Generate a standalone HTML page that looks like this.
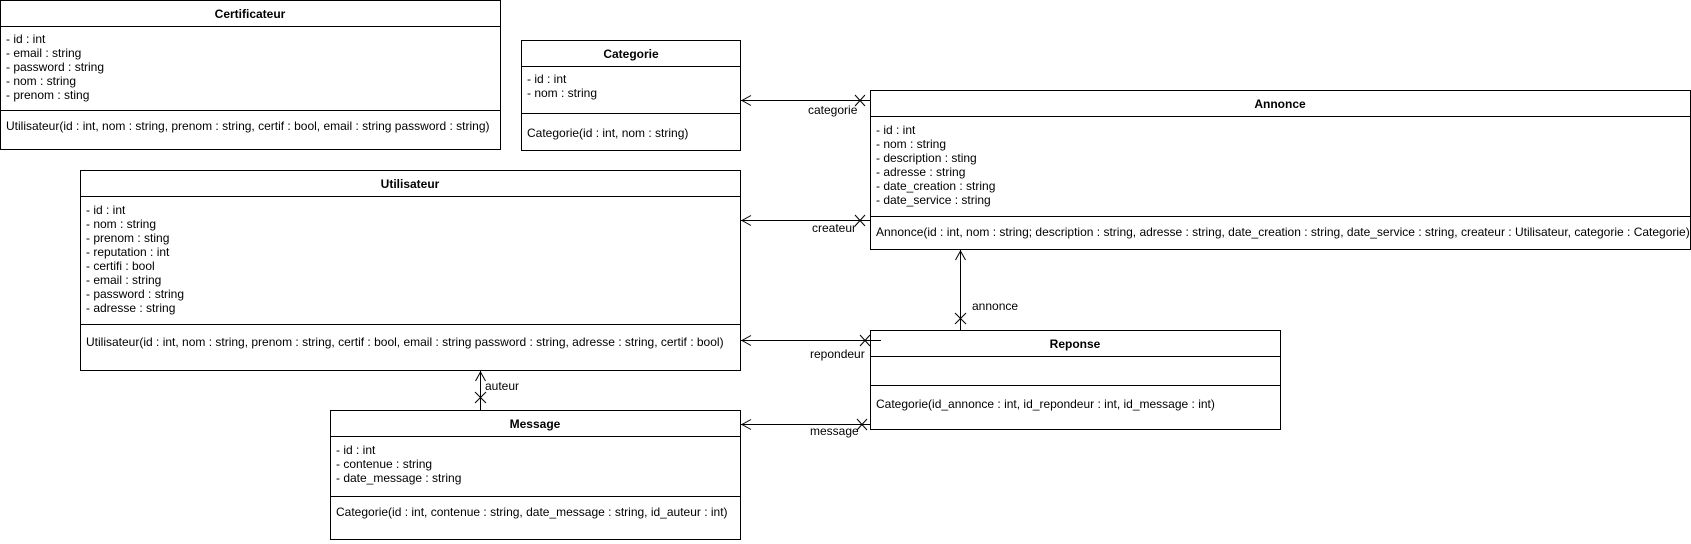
<!DOCTYPE html>
<html><head><meta charset="utf-8"><style>
body{margin:0;background:#fff}
svg{display:block}
text{font-family:"Liberation Sans",sans-serif;font-size:12px;fill:#000}
.t{font-weight:bold;text-anchor:middle}
rect,line,path{stroke:#000;fill:none;stroke-width:1}
</style></head><body>
<svg width="1691" height="544" viewBox="0 0 1691 544" xmlns="http://www.w3.org/2000/svg">
<rect x="0.5" y="0.5" width="500" height="149"/>
<line x1="0" y1="26.5" x2="501" y2="26.5"/><line x1="0" y1="110.5" x2="501" y2="110.5"/>
<text class="t" x="250" y="18">Certificateur</text>
<text x="6" y="43">- id : int</text><text x="6" y="57">- email : string</text><text x="6" y="71">- password : string</text><text x="6" y="85">- nom : string</text><text x="6" y="99">- prenom : sting</text>
<text x="6" y="130">Utilisateur(id : int, nom : string, prenom : string, certif : bool, email : string password : string)</text>
<rect x="521.5" y="40.5" width="219" height="110"/>
<line x1="521" y1="66.5" x2="741" y2="66.5"/><line x1="521" y1="113.5" x2="741" y2="113.5"/>
<text class="t" x="631" y="58">Categorie</text>
<text x="527" y="83">- id : int</text><text x="527" y="97">- nom : string</text>
<text x="527" y="137">Categorie(id : int, nom : string)</text>
<rect x="870.5" y="90.5" width="820" height="159"/>
<line x1="870" y1="116.5" x2="1691" y2="116.5"/><line x1="870" y1="216.5" x2="1691" y2="216.5"/>
<text class="t" x="1280" y="108">Annonce</text>
<text x="876" y="134">- id : int</text><text x="876" y="148">- nom : string</text><text x="876" y="162">- description : sting</text><text x="876" y="176">- adresse : string</text><text x="876" y="190">- date_creation : string</text><text x="876" y="204">- date_service : string</text>
<text x="876" y="236">Annonce(id : int, nom : string; description : string, adresse : string, date_creation : string, date_service : string, createur : Utilisateur, categorie : Categorie)</text>
<rect x="80.5" y="170.5" width="660" height="200"/>
<line x1="80" y1="196.5" x2="741" y2="196.5"/><line x1="80" y1="324.5" x2="741" y2="324.5"/>
<text class="t" x="410" y="188">Utilisateur</text>
<text x="86" y="214">- id : int</text><text x="86" y="228">- nom : string</text><text x="86" y="242">- prenom : sting</text><text x="86" y="256">- reputation : int</text><text x="86" y="270">- certifi : bool</text><text x="86" y="284">- email : string</text><text x="86" y="298">- password : string</text><text x="86" y="312">- adresse : string</text>
<text x="86" y="346">Utilisateur(id : int, nom : string, prenom : string, certif : bool, email : string password : string, adresse : string, certif : bool)</text>
<rect x="870.5" y="330.5" width="410" height="99"/>
<line x1="870" y1="356.5" x2="1281" y2="356.5"/><line x1="870" y1="385.5" x2="1281" y2="385.5"/>
<text class="t" x="1075" y="348">Reponse</text>
<text x="876" y="408">Categorie(id_annonce : int, id_repondeur : int, id_message : int)</text>
<rect x="330.5" y="410.5" width="410" height="129"/>
<line x1="330" y1="436.5" x2="741" y2="436.5"/><line x1="330" y1="496.5" x2="741" y2="496.5"/>
<text class="t" x="535" y="428">Message</text>
<text x="336" y="454">- id : int</text><text x="336" y="468">- contenue : string</text><text x="336" y="482">- date_message : string</text>
<text x="336" y="516">Categorie(id : int, contenue : string, date_message : string, id_auteur : int)</text>
<line x1="741" y1="100.5" x2="870" y2="100.5"/><path d="M751 95.5 L742 100.5 L751 105.5"/><path d="M855 95 L865 106 M855 106 L865 95"/>
<text x="808" y="114">categorie</text>
<line x1="741" y1="220.5" x2="870" y2="220.5"/><path d="M751 215.5 L742 220.5 L751 225.5"/><path d="M855 215 L865 226 M855 226 L865 215"/>
<text x="812" y="232">createur</text>
<line x1="960.5" y1="250" x2="960.5" y2="330"/><path d="M955.5 260 L960.5 251 L965.5 260"/><path d="M955 313 L966 324 M955 324 L966 313"/>
<text x="972" y="310">annonce</text>
<line x1="741" y1="340.5" x2="881" y2="340.5"/><path d="M751 335.5 L742 340.5 L751 345.5"/><path d="M860 335 L870 346 M860 346 L870 335"/>
<text x="810" y="358">repondeur</text>
<line x1="741" y1="424.5" x2="870" y2="424.5"/><path d="M751 419.5 L742 424.5 L751 429.5"/><path d="M857 419 L867 430 M857 430 L867 419"/>
<text x="810" y="435">message</text>
<line x1="480.5" y1="371" x2="480.5" y2="410"/><path d="M475.5 381 L480.5 372 L485.5 381"/><path d="M475 392 L486 403 M475 403 L486 392"/>
<text x="485" y="390">auteur</text>
</svg>
</body></html>
